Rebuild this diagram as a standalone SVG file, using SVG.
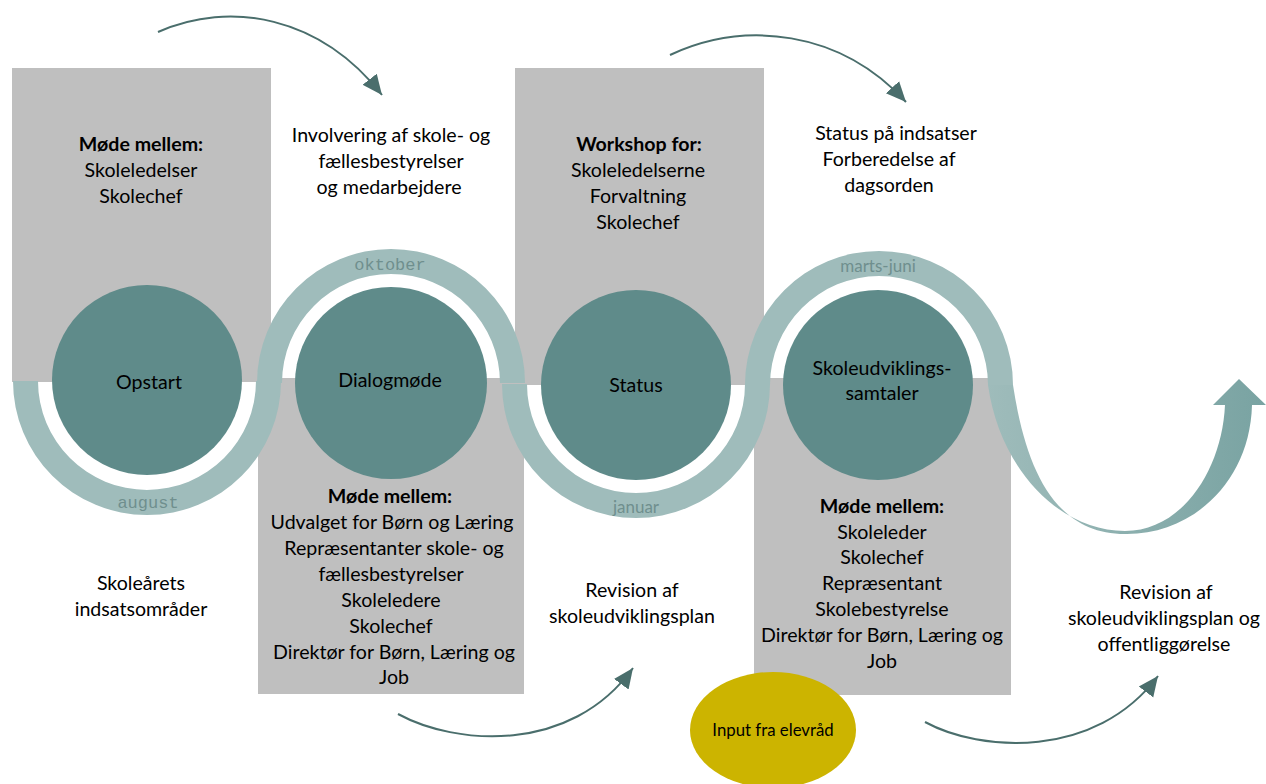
<svg xmlns="http://www.w3.org/2000/svg" width="1266" height="784" viewBox="0 0 1266 784">
<defs>
<style>
.box{fill:#bfbfbf}
.band{fill:#9fbcbb}
.circ{fill:#5f8b8a}
.t{font-family:Lato,"Liberation Sans",sans-serif;font-size:19.6px;fill:#000;text-anchor:middle}
.b{font-weight:bold}
.mono{font-family:"Liberation Mono",monospace;font-size:17px;fill:#6f8f8e;text-anchor:middle}
.ms{font-family:Lato,"Liberation Sans",sans-serif;font-size:17px;fill:#6f8f8e;text-anchor:middle}
.arr{fill:none;stroke:#4a6e6c;stroke-width:2}
</style>
<marker id="ah" markerUnits="userSpaceOnUse" markerWidth="22" markerHeight="22" viewBox="0 0 22 22" refX="20" refY="11" orient="auto">
<path d="M0,2 L20,11 L0,20 Z" fill="#4a6e6c"/>
</marker>
<linearGradient id="rib" x1="985" y1="0" x2="1266" y2="0" gradientUnits="userSpaceOnUse">
<stop offset="0" stop-color="#9fbcbb"/>
<stop offset="1" stop-color="#79a3a2"/>
</linearGradient>
</defs>

<g id="boxes">
<rect id="box-opstart" class="box" x="12" y="68" width="259" height="314"/>
<rect id="box-dialog" class="box" x="258" y="378" width="266" height="316"/>
<rect id="box-status" class="box" x="515" y="68" width="249" height="317"/>
<rect id="box-skole" class="box" x="754" y="378" width="257" height="317"/>
</g>

<g id="bands">
<path class="band" d="M13,381 A134,134 0 0 0 281,381 L256,381 A109,109 0 0 1 38,381 Z"/>
<path class="band" d="M257,383 A134,134 0 0 1 525,383 L500,383 A109,109 0 0 0 282,383 Z"/>
<path class="band" d="M502,384 A134,134 0 0 0 770,384 L745,384 A109,109 0 0 1 527,384 Z"/>
<path class="band" d="M745,385 A134,134 0 0 1 1013,385 L988,385 A109,109 0 0 0 770,385 Z"/>
<path fill="url(#rib)" d="M988,385 C1000,470 1060,531 1125,531 C1182,531 1222,470 1225,405 L1213,405 L1239,379 L1266,405 L1252,405 C1250,482 1192,535 1125,534 C1055,534 1026,470 1013,385 Z"/>
<text class="mono" x="148" y="508">august</text>
<text class="mono" x="390" y="270">oktober</text>
<text class="ms" x="636" y="513">januar</text>
<text class="ms" x="878" y="272">marts-juni</text>
</g>

<g id="node-opstart">
<circle class="circ" cx="147" cy="380" r="95"/>
<text class="t" x="149" y="389">Opstart</text>
</g>
<g id="node-dialog">
<circle class="circ" cx="391" cy="383" r="96"/>
<text class="t" x="390" y="387">Dialogmøde</text>
</g>
<g id="node-status">
<circle class="circ" cx="636" cy="385" r="95"/>
<text class="t" x="636" y="392">Status</text>
</g>
<g id="node-skole">
<circle class="circ" cx="878" cy="385" r="95"/>
<text class="t" x="882" y="375">Skoleudviklings-</text>
<text class="t" x="882" y="400">samtaler</text>
</g>

<g id="text-box1">
<text class="t b" x="141" y="151">Møde mellem:</text>
<text class="t" x="141" y="177">Skoleledelser</text>
<text class="t" x="141" y="203">Skolechef</text>
</g>
<g id="text-top2">
<text class="t" x="391" y="142">Involvering af skole- og</text>
<text class="t" x="391" y="168">fællesbestyrelser</text>
<text class="t" x="389" y="194">og medarbejdere</text>
</g>
<g id="text-box3">
<text class="t b" x="639" y="151">Workshop for:</text>
<text class="t" x="638" y="177">Skoleledelserne</text>
<text class="t" x="638" y="203">Forvaltning</text>
<text class="t" x="638" y="229">Skolechef</text>
</g>
<g id="text-top4">
<text class="t" x="896" y="140">Status på indsatser</text>
<text class="t" x="889" y="166">Forberedelse af</text>
<text class="t" x="889" y="192">dagsorden</text>
</g>
<g id="text-box2">
<text class="t b" x="390" y="503">Møde mellem:</text>
<text class="t" x="392" y="529">Udvalget for Børn og Læring</text>
<text class="t" x="394" y="555">Repræsentanter skole- og</text>
<text class="t" x="391" y="581">fællesbestyrelser</text>
<text class="t" x="391" y="607">Skoleledere</text>
<text class="t" x="391" y="633">Skolechef</text>
<text class="t" x="394" y="659">Direktør for Børn, Læring og</text>
<text class="t" x="394" y="684">Job</text>
</g>
<g id="text-box4">
<text class="t b" x="882" y="513">Møde mellem:</text>
<text class="t" x="882" y="539">Skoleleder</text>
<text class="t" x="882" y="564">Skolechef</text>
<text class="t" x="882" y="590">Repræsentant</text>
<text class="t" x="882" y="616">Skolebestyrelse</text>
<text class="t" x="882" y="642">Direktør for Børn, Læring og</text>
<text class="t" x="882" y="668">Job</text>
</g>
<g id="text-bottom1">
<text class="t" x="141" y="590">Skoleårets</text>
<text class="t" x="141" y="616">indsatsområder</text>
</g>
<g id="text-bottom3">
<text class="t" x="632" y="597">Revision af</text>
<text class="t" x="632" y="623">skoleudviklingsplan</text>
</g>
<g id="text-bottom5">
<text class="t" x="1166" y="599">Revision af</text>
<text class="t" x="1164" y="625">skoleudviklingsplan og</text>
<text class="t" x="1164" y="651">offentliggørelse</text>
</g>

<g id="node-elevraad">
<ellipse cx="773" cy="730" rx="83" ry="58" fill="#ccb400"/>
<text class="t" x="773" y="736" style="font-size:16.8px">Input fra elevråd</text>
</g>

<g id="connectors">
<path class="arr" d="M158,32 C230,0 320,16 382,95" marker-end="url(#ah)"/>
<path class="arr" d="M670,55 C745,20 840,30 906,102" marker-end="url(#ah)"/>
<path class="arr" d="M398,714 C455,745 570,755 633,668" marker-end="url(#ah)"/>
<path class="arr" d="M925,722 C980,752 1095,760 1158,676" marker-end="url(#ah)"/>
</g>
</svg>
